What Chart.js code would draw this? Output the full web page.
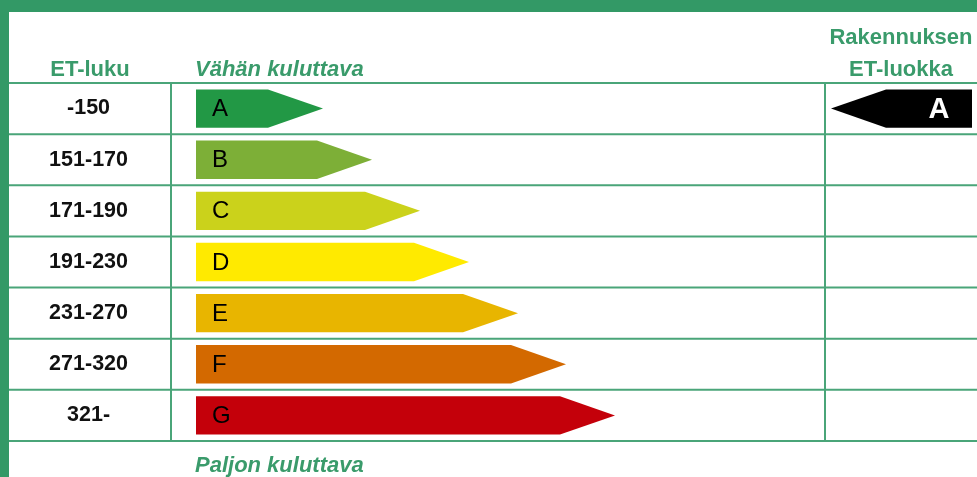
<!DOCTYPE html>
<html>
<head>
<meta charset="utf-8">
<script src="https://cdn.jsdelivr.net/npm/chart.js@4"></script>
<style>
    html, body { margin: 0; padding: 0; background: #ffffff; }
    canvas { display: block; }
</style>
</head>
<body>
<canvas id="label" width="977" height="477"></canvas>
<script>
// energy classes, top to bottom
const classes = ['A', 'B', 'C', 'D', 'E', 'F', 'G'];
const etRanges = ['-150', '151-170', '171-190', '191-230', '231-270', '271-320', '321-'];
// arrow length of each class (same units as the x scale)
const arrowLengths = [127, 176, 224, 273, 322, 370, 419];
const classColors = ['#229845', '#7daf37', '#cbd21b', '#ffea00', '#e8b500', '#d36900', '#c4000a'];
const buildingClass = 'A';

const GREEN = '#339966';
const TEXT_GREEN = '#3a9b6b';
const LINE_GREEN = '#4aa579';
const FONT = '"Liberation Sans", Arial, sans-serif';

const TIP = 55;

function arrowPath(ctx, left, right, top, bottom, tip, pointLeft) {
    const mid = (top + bottom) / 2;
    ctx.beginPath();
    if (pointLeft) {
        ctx.moveTo(left, mid);
        ctx.lineTo(left + tip, top);
        ctx.lineTo(right, top);
        ctx.lineTo(right, bottom);
        ctx.lineTo(left + tip, bottom);
    } else {
        ctx.moveTo(left, top);
        ctx.lineTo(right - tip, top);
        ctx.lineTo(right, mid);
        ctx.lineTo(right - tip, bottom);
        ctx.lineTo(left, bottom);
    }
    ctx.closePath();
}

// frame, table lines and header texts
const tablePlugin = {
    id: 'table',
    beforeDraw(chart) {
        const ctx = chart.ctx;
        const area = chart.chartArea;
        const rows = classes.length;
        const rowH = (area.bottom - area.top) / rows;
        ctx.save();
        ctx.fillStyle = GREEN;
        ctx.fillRect(0, 0, chart.width, 12);
        ctx.fillRect(0, 0, 9, chart.height);

        ctx.strokeStyle = LINE_GREEN;
        ctx.lineWidth = 2;
        for (let i = 0; i <= rows; i++) {
            const y = area.top + i * rowH;
            ctx.beginPath();
            ctx.moveTo(9, y);
            ctx.lineTo(chart.width, y);
            ctx.stroke();
        }
        [area.left, area.right].forEach(x => {
            ctx.beginPath();
            ctx.moveTo(x, area.top);
            ctx.lineTo(x, area.bottom);
            ctx.stroke();
        });

        ctx.fillStyle = TEXT_GREEN;
        ctx.textBaseline = 'middle';
        ctx.font = 'bold 22px ' + FONT;
        ctx.textAlign = 'center';
        ctx.fillText('ET-luku', (9 + area.left) / 2, 70);
        const rc = (area.right + chart.width) / 2;
        ctx.fillText('Rakennuksen', rc, 38);
        ctx.fillText('ET-luokka', rc, 70);
        ctx.font = 'italic bold 22px ' + FONT;
        ctx.textAlign = 'left';
        ctx.fillText('Vähän kuluttava', 195, 70);
        ctx.fillText('Paljon kuluttava', 195, area.bottom + 25);
        ctx.restore();
    }
};

// draws the bars as arrows, plus the building's own class marker
const arrowPlugin = {
    id: 'arrows',
    beforeDatasetDraw(chart, args) {
        const ctx = chart.ctx;
        const meta = args.meta;
        ctx.save();
        meta.data.forEach((bar, i) => {
            const top = bar.y - bar.height / 2;
            const bottom = bar.y + bar.height / 2;
            ctx.fillStyle = classColors[i];
            arrowPath(ctx, bar.base, bar.x, top, bottom, TIP, false);
            ctx.fill();
            ctx.fillStyle = '#000000';
            ctx.font = '24px ' + FONT;
            ctx.textAlign = 'left';
            ctx.textBaseline = 'middle';
            ctx.fillText(classes[i], bar.base + 16, bar.y + 1);
        });

        const idx = classes.indexOf(buildingClass);
        const ref = meta.data[idx];
        const top = ref.y - ref.height / 2;
        const bottom = ref.y + ref.height / 2;
        const left = chart.chartArea.right + 6;
        const right = chart.width - 5;
        ctx.fillStyle = '#000000';
        arrowPath(ctx, left, right, top, bottom, TIP, true);
        ctx.fill();
        ctx.fillStyle = '#ffffff';
        ctx.font = 'bold 29px ' + FONT;
        ctx.textAlign = 'center';
        ctx.fillText(buildingClass, 939, ref.y + 1);
        ctx.restore();
        return false;
    }
};

new Chart(document.getElementById('label'), {
    type: 'bar',
    data: {
        labels: etRanges,
        datasets: [{
            data: arrowLengths,
            backgroundColor: classColors,
            categoryPercentage: 1,
            barPercentage: 0.75
        }]
    },
    options: {
        indexAxis: 'y',
        responsive: false,
        animation: false,
        events: [],
        layout: {
            padding: { left: 9, top: 83, right: 152, bottom: 36 }
        },
        plugins: {
            legend: { display: false },
            tooltip: { enabled: false }
        },
        scales: {
            x: {
                display: false,
                min: -25,
                max: 629
            },
            y: {
                grid: { display: false, drawTicks: false },
                border: { display: false },
                afterFit(scale) {
                    scale.width = 162;
                    scale.paddingTop = 0;
                    scale.paddingBottom = 0;
                },
                ticks: {
                    crossAlign: 'center',
                    padding: 43,
                    color: '#111111',
                    font: { family: FONT, size: 21.5, weight: 'bold' }
                }
            }
        }
    },
    plugins: [tablePlugin, arrowPlugin]
});
</script>
</body>
</html>
